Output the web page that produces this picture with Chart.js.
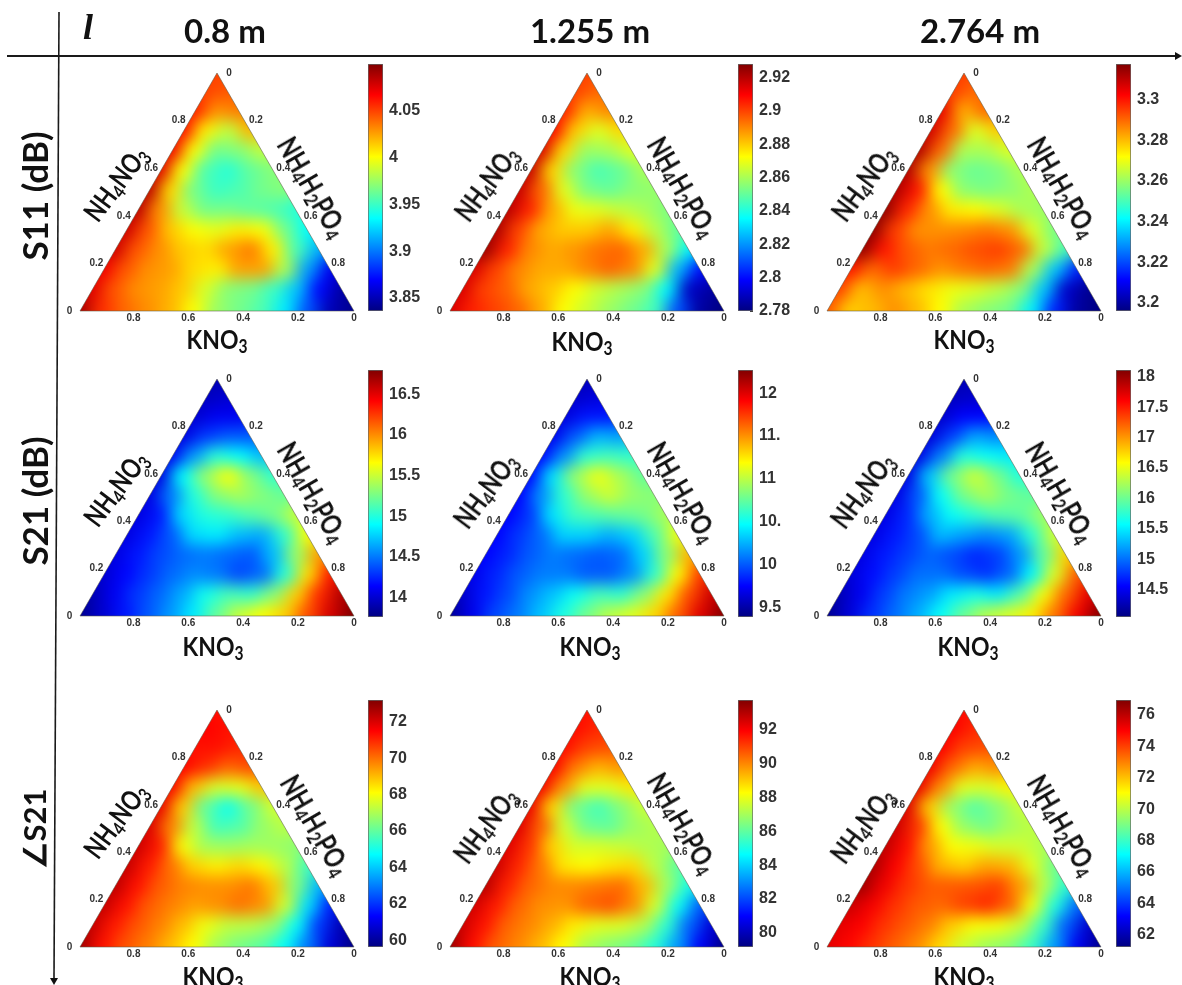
<!DOCTYPE html>
<html>
<head>
<meta charset="utf-8">
<title>Ternary maps</title>
<script src="https://cdn.jsdelivr.net/npm/chart.js@4/dist/chart.umd.min.js"></script>
<style>
html, body { margin: 0; padding: 0; background: #fff; }
#page { position: relative; width: 1182px; height: 985px; overflow: hidden; }
#page canvas { position: absolute; }
#page svg { position: absolute; left: 0; top: 0; }
.txt { position: absolute; font-family: Lato, "Noto Sans", sans-serif; font-weight: 700; color: #111; white-space: nowrap; line-height: 1; transform-origin: center center; }
.txt sub { font-size: 0.68em; line-height: 0; vertical-align: -0.22em; }
</style>
</head>
<body>
<div id="page">
<svg width="1182" height="985">
	<line x1="7" y1="56" x2="1176" y2="56" stroke="#1a1a1a" stroke-width="2"/>
	<polygon points="1182,56 1175,52 1175,60" fill="#111"/>
	<line x1="59" y1="12" x2="54" y2="978" stroke="#1a1a1a" stroke-width="1.6"/>
	<polygon points="54,985 50,978 58,978" fill="#111"/>
</svg>
</div>
<script>
// measured values, one row per NH4NO3 level from the apex down (step 1/12)
var s11_08 = [
	[4.05],
	[4.05, 4.045],
	[4.06, 4.03, 4.035],
	[4.065, 4.005, 3.985, 4.02],
	[4.07, 4.0, 3.965, 3.97, 3.985],
	[4.075, 4.0, 3.955, 3.945, 3.96, 3.97],
	[4.085, 4.01, 3.965, 3.95, 3.955, 3.965, 3.97],
	[4.085, 4.03, 3.985, 3.965, 3.965, 3.96, 3.955, 3.945],
	[4.08, 4.045, 4.015, 4.0, 3.995, 4.005, 4.0, 3.965, 3.935],
	[4.08, 4.045, 4.03, 4.015, 4.01, 4.025, 4.035, 4.005, 3.955, 3.915],
	[4.07, 4.045, 4.03, 4.025, 4.01, 4.005, 4.025, 4.025, 3.98, 3.91, 3.865],
	[4.075, 4.045, 4.03, 4.025, 4.015, 3.99, 3.97, 3.965, 3.95, 3.92, 3.87, 3.845],
	[4.09, 4.055, 4.04, 4.03, 4.02, 4.0, 3.975, 3.965, 3.955, 3.93, 3.89, 3.85, 3.84]
];
var s11_1255 = [
	[2.90],
	[2.90, 2.895],
	[2.905, 2.885, 2.89],
	[2.91, 2.88, 2.868, 2.878],
	[2.915, 2.878, 2.858, 2.86, 2.868],
	[2.918, 2.878, 2.855, 2.846, 2.85, 2.86],
	[2.918, 2.895, 2.868, 2.853, 2.85, 2.855, 2.857],
	[2.92, 2.905, 2.885, 2.87, 2.868, 2.864, 2.86, 2.854],
	[2.922, 2.90, 2.885, 2.88, 2.88, 2.885, 2.875, 2.862, 2.85],
	[2.925, 2.905, 2.89, 2.885, 2.888, 2.893, 2.895, 2.885, 2.86, 2.835],
	[2.915, 2.90, 2.89, 2.885, 2.885, 2.89, 2.895, 2.89, 2.868, 2.825, 2.80],
	[2.915, 2.90, 2.895, 2.885, 2.88, 2.872, 2.865, 2.86, 2.855, 2.835, 2.79, 2.785],
	[2.915, 2.905, 2.90, 2.895, 2.885, 2.872, 2.865, 2.858, 2.852, 2.845, 2.81, 2.785, 2.78]
];
var s11_2764 = [
	[3.295],
	[3.295, 3.29],
	[3.305, 3.282, 3.29],
	[3.308, 3.29, 3.268, 3.278],
	[3.312, 3.29, 3.262, 3.262, 3.268],
	[3.312, 3.285, 3.258, 3.254, 3.256, 3.262],
	[3.312, 3.30, 3.272, 3.258, 3.256, 3.258, 3.262],
	[3.316, 3.298, 3.285, 3.274, 3.272, 3.268, 3.262, 3.26],
	[3.316, 3.295, 3.285, 3.285, 3.286, 3.288, 3.285, 3.268, 3.256],
	[3.316, 3.30, 3.292, 3.288, 3.29, 3.293, 3.295, 3.29, 3.265, 3.25],
	[3.30, 3.29, 3.295, 3.29, 3.285, 3.288, 3.29, 3.288, 3.262, 3.235, 3.215],
	[3.295, 3.28, 3.285, 3.28, 3.275, 3.27, 3.268, 3.264, 3.258, 3.235, 3.205, 3.198],
	[3.292, 3.278, 3.28, 3.285, 3.28, 3.272, 3.262, 3.258, 3.255, 3.24, 3.215, 3.20, 3.196]
];
var s21_08 = [
	[13.9],
	[13.95, 14.0],
	[14.0, 14.1, 14.1],
	[14.05, 14.3, 14.4, 14.4],
	[14.1, 14.6, 15.0, 14.9, 14.7],
	[14.05, 14.9, 15.35, 15.65, 15.3, 15.05],
	[14.05, 14.5, 15.0, 15.3, 15.4, 15.3, 15.2],
	[14.05, 14.2, 14.8, 15.0, 15.05, 15.15, 15.25, 15.5],
	[14.05, 14.2, 14.4, 14.8, 14.85, 14.7, 14.65, 15.05, 15.65],
	[14.05, 14.2, 14.35, 14.45, 14.5, 14.45, 14.4, 14.7, 15.35, 15.95],
	[14.0, 14.15, 14.3, 14.45, 14.55, 14.5, 14.35, 14.45, 15.0, 15.75, 16.35],
	[13.9, 14.1, 14.3, 14.45, 14.65, 14.95, 15.1, 15.05, 15.3, 15.8, 16.3, 16.65],
	[13.8, 14.0, 14.2, 14.4, 14.6, 14.85, 15.2, 15.5, 15.65, 15.8, 16.2, 16.55, 16.8]
];
var s21_1255 = [
	[9.55],
	[9.6, 9.65],
	[9.65, 9.8, 9.8],
	[9.7, 10.0, 10.25, 10.2],
	[9.75, 10.15, 10.6, 10.65, 10.6],
	[9.75, 10.4, 10.9, 11.15, 10.95, 10.75],
	[9.75, 10.15, 10.6, 10.9, 11.05, 10.9, 10.85],
	[9.75, 9.9, 10.4, 10.65, 10.7, 10.75, 10.8, 10.95],
	[9.75, 9.9, 10.05, 10.35, 10.35, 10.25, 10.35, 10.7, 11.15],
	[9.75, 9.85, 10.0, 10.1, 10.05, 10.0, 10.05, 10.35, 10.85, 11.4],
	[9.7, 9.85, 10.0, 10.1, 10.1, 10.0, 10.0, 10.15, 10.6, 11.2, 11.75],
	[9.6, 9.8, 9.95, 10.15, 10.3, 10.5, 10.65, 10.6, 10.85, 11.25, 11.7, 12.05],
	[9.45, 9.7, 9.95, 10.1, 10.3, 10.55, 10.8, 11.0, 11.1, 11.3, 11.65, 12.0, 12.25]
];
var s21_2764 = [
	[14.25],
	[14.3, 14.35],
	[14.35, 14.55, 14.55],
	[14.4, 14.8, 15.2, 15.1],
	[14.45, 15.05, 15.7, 15.6, 15.5],
	[14.45, 15.35, 16.05, 16.4, 16.05, 15.7],
	[14.45, 14.9, 15.6, 16.05, 16.25, 16.05, 15.95],
	[14.45, 14.7, 15.25, 15.6, 15.75, 15.9, 15.95, 16.2],
	[14.45, 14.65, 14.85, 15.3, 15.2, 15.1, 15.2, 15.75, 16.4],
	[14.45, 14.65, 14.8, 14.95, 14.85, 14.7, 14.8, 15.15, 15.95, 16.75],
	[14.4, 14.6, 14.8, 15.0, 15.0, 14.85, 14.75, 14.95, 15.55, 16.45, 17.25],
	[14.25, 14.5, 14.8, 15.05, 15.2, 15.5, 15.65, 15.5, 15.9, 16.55, 17.2, 17.7],
	[14.1, 14.4, 14.75, 15.0, 15.25, 15.6, 16.0, 16.3, 16.45, 16.65, 17.15, 17.65, 18.1]
];
var ang_08 = [
	[71.3],
	[71.5, 71.3],
	[71.3, 71.3, 71.0],
	[71.5, 70.9, 70.2, 70.5],
	[71.6, 69.0, 67.6, 67.8, 68.9],
	[71.8, 68.8, 66.0, 64.9, 66.2, 67.5],
	[72.0, 69.8, 67.2, 65.6, 65.8, 66.7, 67.2],
	[72.2, 71.2, 68.0, 66.9, 66.8, 66.9, 66.8, 66.6],
	[72.3, 71.2, 70.0, 68.7, 68.3, 68.6, 68.2, 67.2, 65.6],
	[72.4, 71.3, 70.3, 69.8, 69.6, 69.6, 69.9, 68.9, 66.4, 63.8],
	[72.3, 71.3, 70.3, 69.8, 69.4, 69.6, 70.0, 69.6, 67.5, 64.3, 61.7],
	[72.3, 71.2, 70.4, 69.8, 69.0, 67.9, 67.3, 67.2, 66.7, 64.8, 62.0, 60.3],
	[72.8, 71.3, 70.4, 69.8, 69.0, 68.1, 66.9, 66.3, 65.9, 64.8, 62.9, 60.8, 59.7]
];
var ang_1255 = [
	[91.7],
	[91.8, 91.4],
	[91.8, 91.0, 90.8],
	[92.0, 90.2, 89.4, 89.8],
	[92.1, 89.8, 87.9, 87.9, 88.6],
	[92.2, 88.8, 86.3, 85.6, 86.5, 87.5],
	[92.4, 90.6, 87.6, 86.2, 86.0, 86.8, 87.2],
	[92.4, 91.2, 88.9, 87.7, 87.7, 87.5, 87.2, 87.0],
	[92.7, 91.4, 90.2, 88.6, 88.3, 88.6, 88.8, 87.3, 86.0],
	[93.0, 91.5, 90.5, 90.0, 90.0, 90.2, 90.4, 89.3, 87.0, 85.0],
	[92.6, 91.6, 90.5, 89.9, 89.8, 90.5, 90.8, 90.0, 87.7, 84.8, 82.3],
	[92.7, 91.7, 90.5, 90.0, 89.4, 88.5, 87.9, 87.8, 87.2, 85.3, 82.4, 80.4],
	[93.4, 91.8, 90.6, 90.0, 89.3, 88.3, 87.1, 86.6, 86.2, 85.2, 83.2, 80.9, 79.3]
];
var ang_2764 = [
	[74.8],
	[75.0, 74.4],
	[75.0, 74.0, 73.8],
	[75.2, 73.4, 72.4, 72.8],
	[75.3, 72.8, 70.6, 70.5, 71.2],
	[75.5, 71.8, 69.4, 68.4, 69.2, 70.2],
	[75.8, 74.2, 71.0, 69.4, 68.9, 69.6, 70.0],
	[76.0, 74.8, 72.6, 71.0, 70.8, 70.4, 70.3, 69.8],
	[76.3, 75.0, 73.8, 72.2, 71.8, 72.4, 72.2, 70.6, 68.8],
	[76.5, 75.2, 74.2, 73.6, 73.6, 73.7, 74.0, 72.6, 70.0, 67.8],
	[75.8, 75.1, 74.2, 73.6, 73.4, 74.0, 74.4, 73.5, 70.8, 67.6, 64.8],
	[75.4, 75.0, 74.2, 73.6, 73.0, 71.8, 71.0, 70.9, 70.2, 68.0, 64.6, 62.4],
	[75.4, 74.9, 74.2, 73.5, 72.8, 71.6, 70.3, 69.6, 69.2, 68.0, 65.6, 63.0, 61.4]
];

var columnTitles = ["0.8 m", "1.255 m", "2.764 m"];
var rowTitles = ["S11 (dB)", "S21 (dB)", "\u2220S21"];
var ternaryTicks = [0.2, 0.4, 0.6, 0.8];

var cbarMin = [3.836, 2.78, 3.196, 13.76, 9.39, 14.05, 59.63, 79.17, 61.23];
var cbarMax = [4.10, 2.928, 3.3175, 16.8, 12.27, 18.11, 73.2, 93.76, 76.94];
var cbarTicks = [
	[3.85, 3.9, 3.95, 4, 4.05],
	[2.78, 2.8, 2.82, 2.84, 2.86, 2.88, 2.9, 2.92],
	[3.2, 3.22, 3.24, 3.26, 3.28, 3.3],
	[14, 14.5, 15, 15.5, 16, 16.5],
	[9.5, 10, 10.5, 11, 11.5, 12],
	[14.5, 15, 15.5, 16, 16.5, 17, 17.5, 18],
	[60, 62, 64, 66, 68, 70, 72],
	[80, 82, 84, 86, 88, 90, 92],
	[62, 64, 66, 68, 70, 72, 74, 76]
];
var cbarLabels = [
	["3.85", "3.9", "3.95", "4", "4.05"],
	["2.78", "2.8", "2.82", "2.84", "2.86", "2.88", "2.9", "2.92"],
	["3.2", "3.22", "3.24", "3.26", "3.28", "3.3"],
	["14", "14.5", "15", "15.5", "16", "16.5"],
	["9.5", "10", "10.", "11", "11.", "12"],
	["14.5", "15", "15.5", "16", "16.5", "17", "17.5", "18"],
	["60", "62", "64", "66", "68", "70", "72"],
	["80", "82", "84", "86", "88", "90", "92"],
	["62", "64", "66", "68", "70", "72", "74", "76"]
];
var fields = [s11_08, s11_1255, s11_2764, s21_08, s21_1255, s21_2764, ang_08, ang_1255, ang_2764];

// page layout
var triLeft = [79.5, 449.5, 827];
var triWidth = 274;
var barLeft = [368.3, 738, 1115.7];
var rowApex = [73.3, 379.3, 709.7];
var rowBase = [311, 616.7, 947];
var barTop = [64.3, 370, 700.3];
var leftLabelXY = [[115, 183], [486, 183], [863, 183], [115, 488], [485, 490], [862, 490], [115, 820], [485, 825], [862, 825]];
var rightLabelXY = [[313, 187], [683, 187], [1063, 187], [313, 492], [683, 492], [1061, 492], [316, 825], [683, 823], [1063, 825]];
var bottomLabelXY = [[217, 338], [582, 340], [964, 338], [213, 645], [590, 645], [968, 645], [213, 975], [590, 975], [964, 975]];

var jetStops = [[0, [0, 0, 128]], [0.125, [0, 0, 255]], [0.375, [0, 255, 255]], [0.625, [255, 255, 0]], [0.875, [255, 0, 0]], [1, [128, 0, 0]]];
var page = document.getElementById("page");

function jet(t) {
	t = Math.max(0, Math.min(1, t));
	for (var k = 1; k < jetStops.length; k++) {
		if (t <= jetStops[k][0]) {
			var a = jetStops[k - 1], b = jetStops[k];
			var f = (t - a[0]) / (b[0] - a[0]);
			return "rgb(" + [0, 1, 2].map(function(c) {
				return Math.round(a[1][c] + (b[1][c] - a[1][c]) * f);
			}).join(",") + ")";
		}
	}
	return "rgb(128,0,0)";
}

function addCanvas(left, top, w, h) {
	var c = document.createElement("canvas");
	c.width = Math.round(w);
	c.height = Math.round(h);
	c.style.left = Math.round(left) + "px";
	c.style.top = Math.round(top) + "px";
	page.appendChild(c);
	return c;
}

function addText(html, x, y, size, angle, squeeze) {
	var d = document.createElement("div");
	d.className = "txt";
	d.innerHTML = html;
	d.style.left = x + "px";
	d.style.top = y + "px";
	d.style.fontSize = size + "px";
	d.style.transform = "translate(-50%,-50%) rotate(" + (angle || 0) + "deg) scaleX(" + (squeeze || 1) + ")";
	page.appendChild(d);
	return d;
}

// smooths the drawn cells and cuts them to the triangle, then adds the ternary ticks
var ternaryPlugin = {
	id: "ternary",
	afterDatasetsDraw: function(chart) {
		var ctx = chart.ctx, xs = chart.scales.x, ys = chart.scales.y;
		var copy = document.createElement("canvas");
		copy.width = chart.canvas.width;
		copy.height = chart.canvas.height;
		copy.getContext("2d").drawImage(chart.canvas, 0, 0);
		function px(b, a) { return [xs.getPixelForValue(b + a / 2), ys.getPixelForValue(a)]; }
		var L = px(0, 0), R = px(1, 0), T = px(0, 1);
		function outline() {
			ctx.beginPath();
			ctx.moveTo(L[0], L[1]);
			ctx.lineTo(R[0], R[1]);
			ctx.lineTo(T[0], T[1]);
			ctx.closePath();
		}
		ctx.save();
		ctx.clearRect(0, 0, copy.width, copy.height);
		outline();
		ctx.clip();
		ctx.filter = "blur(8px)";
		ctx.drawImage(copy, 0, 0);
		ctx.restore();

		ctx.save();
		outline();
		ctx.lineWidth = 0.8;
		ctx.strokeStyle = "rgba(90,90,70,0.7)";
		ctx.stroke();
		ctx.font = "bold 10px 'Liberation Sans'";
		ctx.fillStyle = "#333";
		ctx.textAlign = "center";
		ctx.textBaseline = "middle";
		ternaryTicks.forEach(function(v) {
			var p = px(0, v);
			ctx.fillText(String(v), p[0] - 11, p[1]);
			p = px(v, 1 - v);
			ctx.fillText(String(v), p[0] + 11.5, p[1]);
			p = px(1 - v, 0);
			ctx.fillText(String(v), p[0] - 1.3, p[1] + 7.7);
		});
		ctx.fillText("0", T[0] + 12, T[1] + 0.5);
		ctx.fillText("0", L[0] - 10.5, L[1] + 0.7);
		ctx.fillText("0", R[0], R[1] + 7.7);
		ctx.restore();
	}
};

function drawField(idx, col, row) {
	var grid = fields[idx];
	var steps = grid.length - 1;
	var cells = [], halo = [], cellColors = [], haloColors = [];
	grid.forEach(function(vals, i) {
		vals.forEach(function(v, j) {
			var a = 1 - i / steps, b = j / steps;
			var color = jet((v - cbarMin[idx]) / (cbarMax[idx] - cbarMin[idx]));
			cells.push({ x: b + a / 2, y: a });
			cellColors.push(color);
			if (i == steps || j == 0 || j == i) {
				halo.push({ x: b + a / 2, y: a });
				haloColors.push(color);
			}
		});
	});
	var margin = 30;
	var h = rowBase[row] - rowApex[row];
	var c = addCanvas(triLeft[col] - margin, rowApex[row] - margin, triWidth + margin * 2, h + margin * 2);
	new Chart(c.getContext("2d"), {
		type: "scatter",
		data: {
			datasets: [
				{ data: cells, pointStyle: "rect", pointRadius: 17, pointBorderWidth: 0, pointBackgroundColor: cellColors, clip: false },
				{ data: halo, pointStyle: "rect", pointRadius: 30, pointBorderWidth: 0, pointBackgroundColor: haloColors, clip: false }
			]
		},
		options: {
			responsive: false,
			animation: false,
			events: [],
			layout: { padding: margin },
			plugins: { legend: { display: false }, tooltip: { enabled: false } },
			scales: {
				x: { type: "linear", min: 0, max: 1, display: false },
				y: { type: "linear", min: 0, max: 1, display: false }
			}
		},
		plugins: [ternaryPlugin]
	});
}

function drawColorbar(idx, col, row) {
	var pad = 22;
	var h = rowBase[row] - barTop[row];
	var c = addCanvas(barLeft[col], barTop[row] - pad, 65, h + pad * 2);
	new Chart(c.getContext("2d"), {
		type: "bar",
		data: {
			labels: [""],
			datasets: [{
				data: [[cbarMin[idx], cbarMax[idx]]],
				barPercentage: 1,
				categoryPercentage: 1,
				borderWidth: 1,
				borderSkipped: false,
				borderColor: "#666",
				backgroundColor: function(context) {
					var area = context.chart.chartArea;
					if (!area) return "#000";
					var g = context.chart.ctx.createLinearGradient(0, area.bottom, 0, area.top);
					jetStops.forEach(function(s) {
						g.addColorStop(s[0], "rgb(" + s[1].join(",") + ")");
					});
					return g;
				}
			}]
		},
		options: {
			responsive: false,
			animation: false,
			events: [],
			layout: { padding: { top: pad, bottom: pad, left: 0, right: 0 } },
			plugins: { legend: { display: false }, tooltip: { enabled: false } },
			scales: {
				x: { display: false },
				y: {
					position: "right",
					min: cbarMin[idx],
					max: cbarMax[idx],
					afterBuildTicks: function(axis) {
						axis.ticks = cbarTicks[idx].map(function(v) { return { value: v }; });
					},
					afterFit: function(axis) { axis.width = 50; },
					border: { display: false },
					grid: { drawOnChartArea: false, tickLength: -3, color: "#444" },
					ticks: {
						autoSkip: false,
						padding: 9,
						color: "#333",
						font: { family: "'Liberation Sans'", size: 16, weight: "bold" },
						callback: function(v) {
							return cbarLabels[idx][cbarTicks[idx].indexOf(v)];
						}
					}
				}
			}
		}
	});
}

var nh4no3 = "NH<sub>4</sub>NO<sub>3</sub>";
var nh4h2po4 = "NH<sub>4</sub>H<sub>2</sub>PO<sub>4</sub>";
var kno3 = "KNO<sub>3</sub>";

for (var r = 0; r < 3; r++) {
	for (var q = 0; q < 3; q++) {
		var n = r * 3 + q;
		drawField(n, q, r);
		drawColorbar(n, q, r);
		addText(nh4no3, leftLabelXY[n][0], leftLabelXY[n][1], 28, -53, 0.78);
		addText(nh4h2po4, rightLabelXY[n][0], rightLabelXY[n][1], 28, 60, 0.8);
		addText(kno3, bottomLabelXY[n][0], bottomLabelXY[n][1], 27, 0, 0.85);
	}
}

var titleX = [225, 590, 980];
columnTitles.forEach(function(t, i) { addText(t, titleX[i], 30, 33, 0); });
var rowTitleY = [196, 501, 829];
var rowTitleSize = [35, 35, 31];
rowTitles.forEach(function(t, i) { addText(t, 34, rowTitleY[i], rowTitleSize[i], -90); });
var ell = addText("l", 88, 27, 36, 0);
ell.style.fontFamily = "'Liberation Serif', serif";
ell.style.fontStyle = "italic";
</script>
</body>
</html>
